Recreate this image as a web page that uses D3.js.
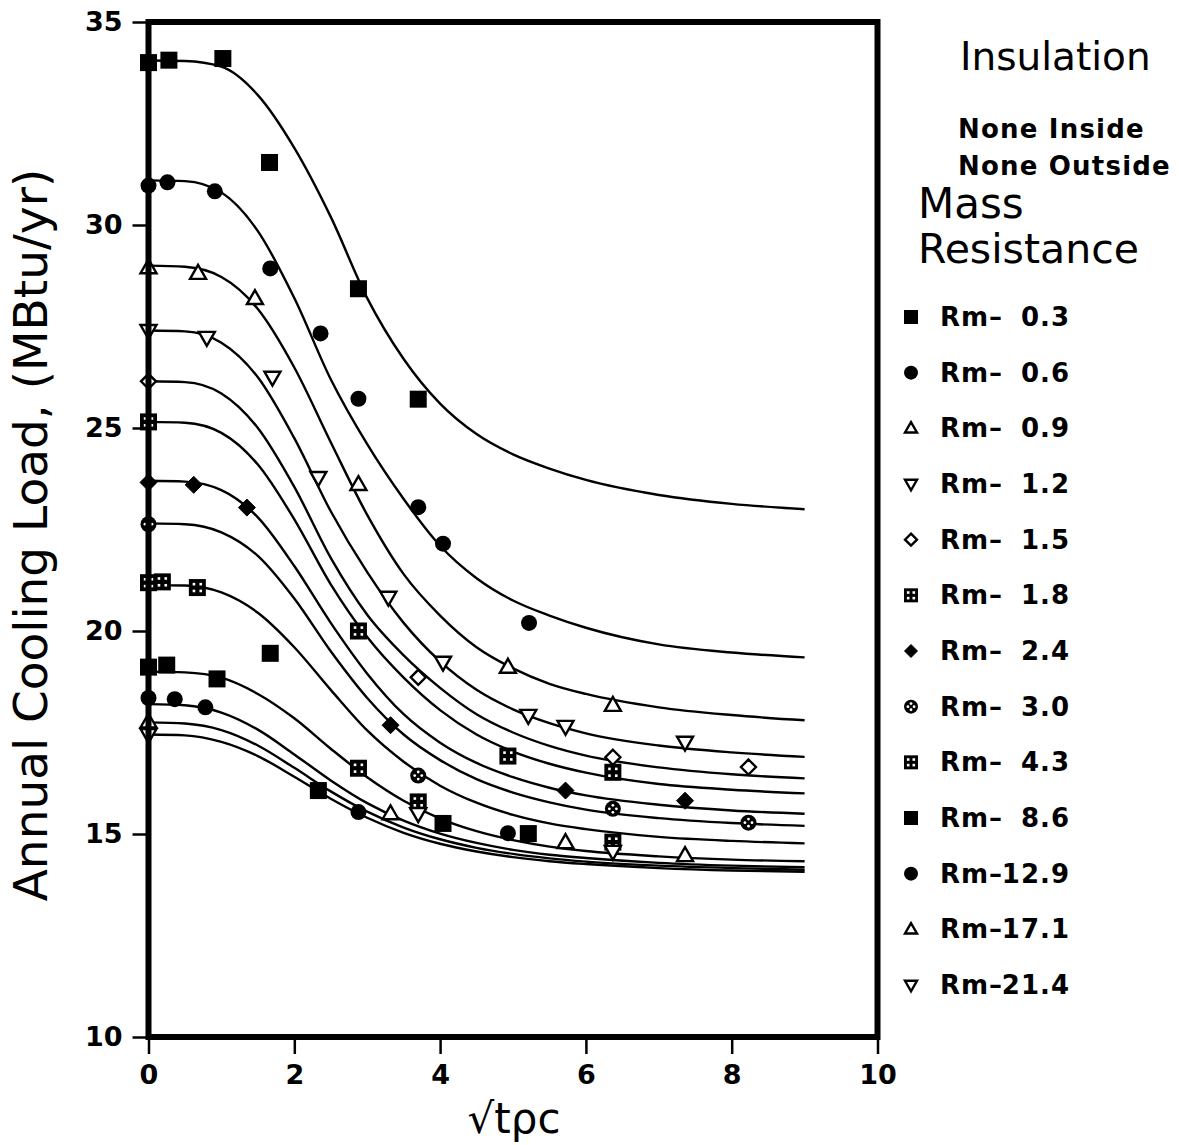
<!DOCTYPE html>
<html><head><meta charset="utf-8">
<script src="https://cdn.jsdelivr.net/npm/d3@7"></script>
<style>body{margin:0;background:#fff}</style>
</head><body>
<svg id="chart" width="1181" height="1145"></svg>
<script>
// ---------- data ----------
const xTicks = [0, 2, 4, 6, 8, 10];
const yTicks = [10, 15, 20, 25, 30, 35];
const seriesNames = ["0.3", "0.6", "0.9", "1.2", "1.5", "1.8", "2.4", "3.0", "4.3", "8.6", "12.9", "17.1", "21.4"];
const markerTypes = ["sq", "ci", "tu", "td", "di", "dsq", "fd", "cci", "dsq", "sq", "ci", "tu", "td"];

// fitted curves, sampled at curveX
const curveX = [0, 0.5, 1, 1.5, 2, 2.5, 3, 3.5, 4, 4.5, 5, 5.5, 6, 7, 8, 9];
const curve03 = [34.05, 34.04, 33.9, 33.2, 31.9, 30.2, 28.2, 26.7, 25.6, 24.85, 24.35, 24.0, 23.72, 23.35, 23.13, 23.0];
const curve06 = [31.1, 31.08, 30.8, 29.85, 28.2, 26.2, 24.6, 23.25, 22.1, 21.3, 20.75, 20.38, 20.08, 19.67, 19.47, 19.35];
const curve09 = [29.0, 28.97, 28.72, 27.93, 26.49, 24.65, 22.86, 21.4, 20.38, 19.6, 19.08, 18.7, 18.45, 18.12, 17.93, 17.8];
const curve12 = [27.4, 27.38, 27.1, 26.25, 24.75, 22.95, 21.45, 20.2, 19.25, 18.55, 18.07, 17.73, 17.48, 17.18, 17.01, 16.9];
const curve15 = [26.15, 26.13, 25.85, 25.0, 23.55, 21.8, 20.4, 19.4, 18.6, 17.95, 17.5, 17.17, 16.93, 16.64, 16.47, 16.37];
const curve18 = [25.15, 25.13, 24.88, 24.1, 22.75, 21.15, 19.85, 18.85, 18.05, 17.45, 17.03, 16.73, 16.51, 16.23, 16.09, 16.0];
const curve24 = [23.7, 23.68, 23.47, 22.8, 21.6, 20.2, 18.95, 17.95, 17.25, 16.75, 16.4, 16.14, 15.95, 15.72, 15.58, 15.5];
const curve30 = [22.65, 22.63, 22.43, 21.85, 20.8, 19.5, 18.35, 17.45, 16.82, 16.35, 16.02, 15.78, 15.6, 15.39, 15.27, 15.2];
const curve43 = [21.13, 21.12, 20.95, 20.45, 19.6, 18.55, 17.55, 16.78, 16.19, 15.77, 15.47, 15.26, 15.12, 14.93, 14.83, 14.77];
const curve86 = [19.0, 18.98, 18.85, 18.45, 17.85, 17.1, 16.4, 15.82, 15.38, 15.07, 14.85, 14.69, 14.58, 14.45, 14.37, 14.33];
const curve129 = [18.2, 18.17, 17.99, 17.57, 16.96, 16.32, 15.76, 15.33, 15.01, 14.78, 14.61, 14.49, 14.41, 14.29, 14.22, 14.18];
const curve171 = [17.75, 17.72, 17.56, 17.18, 16.63, 16.05, 15.55, 15.16, 14.87, 14.66, 14.51, 14.4, 14.32, 14.22, 14.16, 14.12];
const curve214 = [17.45, 17.43, 17.27, 16.92, 16.41, 15.87, 15.4, 15.03, 14.76, 14.57, 14.43, 14.33, 14.26, 14.16, 14.1, 14.07];

// measured points
const pts03X = [0, 0.28, 1.02, 1.66, 2.88, 3.70];
const pts03Y = [34.0, 34.06, 34.1, 31.54, 28.43, 25.71];
const pts06X = [0, 0.26, 0.91, 1.67, 2.36, 2.88, 3.70, 4.04, 5.22];
const pts06Y = [30.97, 31.05, 30.83, 28.93, 27.33, 25.72, 23.05, 22.15, 20.2];
const pts09X = [0, 0.68, 1.46, 2.88, 4.93, 6.37];
const pts09Y = [28.95, 28.81, 28.19, 23.61, 19.11, 18.17];
const pts12X = [0, 0.8, 1.70, 2.33, 3.29, 4.04, 5.21, 5.72, 7.36];
const pts12Y = [27.4, 27.23, 26.25, 23.78, 20.83, 19.23, 17.92, 17.65, 17.26];
const pts15X = [0, 3.70, 6.37, 8.23];
const pts15Y = [26.15, 18.86, 16.89, 16.65];
const pts18X = [0, 2.88, 4.93, 6.37];
const pts18Y = [25.15, 20.0, 16.92, 16.52];
const pts24X = [0, 0.62, 1.35, 3.32, 5.72, 7.36];
const pts24Y = [23.66, 23.6, 23.04, 17.68, 16.07, 15.82];
const pts30X = [0, 3.70, 6.37, 8.23];
const pts30Y = [22.63, 16.44, 15.62, 15.28];
const pts43X = [0, 0.19, 0.67, 2.88, 3.70, 6.37];
const pts43Y = [21.19, 21.21, 21.07, 16.62, 15.79, 14.8];
const pts86X = [0, 0.25, 0.94, 1.67, 2.33, 4.04, 5.21];
const pts86Y = [19.11, 19.16, 18.82, 19.45, 16.07, 15.26, 15.01];
const pts129X = [0, 0.36, 0.78, 2.88, 4.93];
const pts129Y = [18.35, 18.32, 18.12, 15.54, 15.02];
const pts171X = [0, 3.32, 5.72, 7.36];
const pts171Y = [17.76, 15.5, 14.79, 14.47];
const pts214X = [0, 3.70, 6.37];
const pts214Y = [17.45, 15.5, 14.57];

const curves = [curve03, curve06, curve09, curve12, curve15, curve18, curve24, curve30, curve43, curve86, curve129, curve171, curve214];
const ptsX = [pts03X, pts06X, pts09X, pts12X, pts15X, pts18X, pts24X, pts30X, pts43X, pts86X, pts129X, pts171X, pts214X];
const ptsY = [pts03Y, pts06Y, pts09Y, pts12Y, pts15Y, pts18Y, pts24Y, pts30Y, pts43Y, pts86Y, pts129Y, pts171Y, pts214Y];

// ---------- drawing ----------
const svg = d3.select("#chart");
svg.append("rect").attr("width", 1181).attr("height", 1145).attr("fill", "#fff");
const FONT = "'DejaVu Sans', sans-serif";

const x = d3.scaleLinear().domain([0, 10]).range([148.5, 877.5]);
const y = d3.scaleLinear().domain([10, 35]).range([1037, 22]);

const line = d3.line().x(d => x(d[0])).y(d => y(d[1])).curve(d3.curveMonotoneX);
const gCurves = svg.append("g");
curves.forEach(c => {
  gCurves.append("path")
    .attr("d", line(curveX.map((xv, i) => [xv, c[i]])))
    .attr("fill", "none").attr("stroke", "#000").attr("stroke-width", 2.4);
});

function marker(g, type, cx, cy, s) {
  const sw = 2.4;
  if (type === "sq") {
    g.append("rect").attr("x", cx - s / 2).attr("y", cy - s / 2).attr("width", s).attr("height", s).attr("fill", "#000");
  } else if (type === "ci") {
    g.append("circle").attr("cx", cx).attr("cy", cy).attr("r", s / 2).attr("fill", "#000");
  } else if (type === "tu" || type === "td") {
    const k = type === "tu" ? 1 : -1;
    const h = s * 0.87;
    const p = [[cx, cy - k * h * 0.6], [cx - s / 2, cy + k * h * 0.4], [cx + s / 2, cy + k * h * 0.4]];
    g.append("path").attr("d", "M" + p.map(q => q.join(",")).join("L") + "Z")
      .attr("fill", "#fff").attr("stroke", "#000").attr("stroke-width", sw).attr("stroke-linejoin", "miter");
  } else if (type === "di" || type === "fd") {
    const r = s / 2;
    g.append("path").attr("d", `M${cx},${cy - r}L${cx + r},${cy}L${cx},${cy + r}L${cx - r},${cy}Z`)
      .attr("fill", type === "fd" ? "#000" : "#fff").attr("stroke", "#000").attr("stroke-width", type === "fd" ? 1 : sw);
  } else if (type === "dsq") {
    g.append("rect").attr("x", cx - s / 2).attr("y", cy - s / 2).attr("width", s).attr("height", s).attr("fill", "#000");
    [[-1, -1], [1, -1], [-1, 1], [1, 1]].forEach(o => {
      g.append("rect").attr("x", cx + o[0] * s * 0.2 - 1.3).attr("y", cy + o[1] * s * 0.2 - 1.3)
        .attr("width", 2.6).attr("height", 2.6).attr("fill", "#fff");
    });
  } else if (type === "cci") {
    g.append("circle").attr("cx", cx).attr("cy", cy).attr("r", s / 2).attr("fill", "#000");
    [[-1, 0], [1, 0], [0, -1], [0, 1]].forEach(o => {
      g.append("circle").attr("cx", cx + o[0] * s * 0.22).attr("cy", cy + o[1] * s * 0.22).attr("r", 1.4).attr("fill", "#fff");
    });
  }
}

const chartSize = { sq: 17, ci: 16, tu: 16, td: 16, di: 15, fd: 17, dsq: 17, cci: 16 };
const gPts = svg.append("g");
ptsX.forEach((xs, si) => {
  xs.forEach((xv, i) => marker(gPts, markerTypes[si], x(xv), y(ptsY[si][i]), chartSize[markerTypes[si]]));
});

// frame
svg.append("rect").attr("x", x(0)).attr("y", y(35)).attr("width", x(10) - x(0)).attr("height", y(10) - y(35))
  .attr("fill", "none").attr("stroke", "#000").attr("stroke-width", 6);

// axes
const yAxis = d3.axisLeft(y).tickValues(yTicks).tickSize(16).tickPadding(10).tickSizeOuter(0);
const gy = svg.append("g").attr("transform", `translate(${x(0)},0)`).call(yAxis);
const xAxis = d3.axisBottom(x).tickValues(xTicks).tickSize(17).tickPadding(11).tickSizeOuter(0);
const gx = svg.append("g").attr("transform", `translate(0,${y(10)})`).call(xAxis);
[gx, gy].forEach(g => {
  g.select(".domain").remove();
  g.selectAll(".tick line").attr("stroke", "#000").attr("stroke-width", 2.5);
  g.selectAll(".tick text").attr("font-family", FONT).attr("font-size", 27).attr("font-weight", "bold").attr("fill", "#000");
});

// axis titles
svg.append("text").attr("transform", "translate(47,535) rotate(-90)").attr("text-anchor", "middle")
  .attr("font-family", FONT).attr("font-size", 47).attr("fill", "#000")
  .text("Annual Cooling Load, (MBtu/yr)");
svg.append("text").attr("x", 514).attr("y", 1133).attr("text-anchor", "middle")
  .attr("font-family", FONT).attr("font-size", 42).attr("fill", "#000")
  .text("√tρc");

// legend header
const hdr = [
  { t: "Insulation", x: 960, y: 70, fs: 39, fw: "normal", ls: 0 },
  { t: "None Inside", x: 958, y: 138, fs: 26, fw: "bold", ls: 1.2 },
  { t: "None Outside", x: 958, y: 175, fs: 26, fw: "bold", ls: 1.2 },
  { t: "Mass", x: 918, y: 218, fs: 42, fw: "normal", ls: 0 },
  { t: "Resistance", x: 918, y: 263, fs: 41, fw: "normal", ls: 0 }
];
hdr.forEach(h => {
  svg.append("text").attr("x", h.x).attr("y", h.y).attr("font-family", FONT)
    .attr("font-size", h.fs).attr("font-weight", h.fw).attr("fill", "#000")
    .attr("letter-spacing", h.ls).text(h.t);
});

// legend entries
const legSize = { sq: 14, ci: 14, tu: 12, td: 12, di: 12, fd: 13, dsq: 14, cci: 14 };
const legY = d3.scaleLinear().domain([0, seriesNames.length - 1]).range([317, 985]);
const gLeg = svg.append("g");
seriesNames.forEach((nm, i) => {
  const cy = legY(i);
  marker(gLeg, markerTypes[i], 911, cy, legSize[markerTypes[i]]);
  const t = gLeg.append("text").attr("y", cy + 9).attr("font-family", FONT).attr("font-size", 26)
    .attr("font-weight", "bold").attr("fill", "#000");
  t.append("tspan").attr("x", 940).attr("letter-spacing", 1).text("Rm–");
  t.append("tspan").attr("x", 1070).attr("text-anchor", "end").attr("letter-spacing", 1).text((nm.length < 4 ? " " : "") + nm);
});
</script>
</body></html>
